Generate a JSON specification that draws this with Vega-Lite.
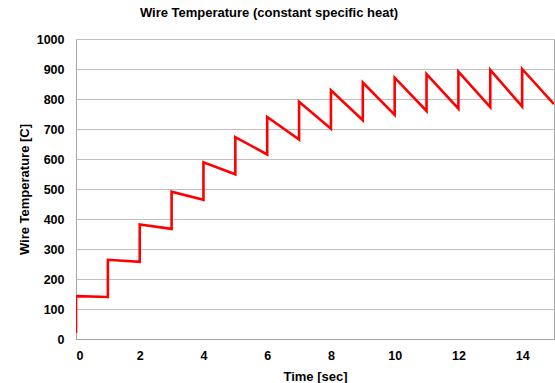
{
  "$schema": "https://vega.github.io/schema/vega-lite/v6.json",
  "width": 478,
  "height": 300,
  "autosize": {"type": "none"},
  "padding": {"left": 76, "top": 39, "right": 1, "bottom": 44},
  "title": {
    "text": "Wire Temperature (constant specific heat)",
    "font": "Liberation Sans",
    "fontSize": 13,
    "fontWeight": "bold",
    "color": "#000000",
    "anchor": "middle",
    "dx": -46,
    "offset": 13
  },
  "config": {
    "view": {"stroke": "#a6a6a6", "strokeWidth": 1},
    "axis": {
      "labelFont": "Liberation Sans",
      "labelFontSize": 12.5,
      "labelFontWeight": "bold",
      "labelColor": "#000000",
      "titleFont": "Liberation Sans",
      "titleFontSize": 13,
      "titleFontWeight": "bold",
      "titleColor": "#000000",
      "domainColor": "#a6a6a6",
      "gridColor": "#bfbfbf",
      "ticks": false
    }
  },
  "data": {
    "values": [
      {"i": 0, "t": 0, "T": 20},
      {"i": 1, "t": 0, "T": 143},
      {"i": 2, "t": 1, "T": 140},
      {"i": 3, "t": 1, "T": 264},
      {"i": 4, "t": 2, "T": 257},
      {"i": 5, "t": 2, "T": 382},
      {"i": 6, "t": 3, "T": 367},
      {"i": 7, "t": 3, "T": 491},
      {"i": 8, "t": 4, "T": 464},
      {"i": 9, "t": 4, "T": 589},
      {"i": 10, "t": 5, "T": 549},
      {"i": 11, "t": 5, "T": 673},
      {"i": 12, "t": 6, "T": 615},
      {"i": 13, "t": 6, "T": 740},
      {"i": 14, "t": 7, "T": 665},
      {"i": 15, "t": 7, "T": 791},
      {"i": 16, "t": 8, "T": 701},
      {"i": 17, "t": 8, "T": 829},
      {"i": 18, "t": 9, "T": 729},
      {"i": 19, "t": 9, "T": 855},
      {"i": 20, "t": 10, "T": 747},
      {"i": 21, "t": 10, "T": 871},
      {"i": 22, "t": 11, "T": 760},
      {"i": 23, "t": 11, "T": 883},
      {"i": 24, "t": 12, "T": 768},
      {"i": 25, "t": 12, "T": 891},
      {"i": 26, "t": 13, "T": 773},
      {"i": 27, "t": 13, "T": 897},
      {"i": 28, "t": 14, "T": 775},
      {"i": 29, "t": 14, "T": 900},
      {"i": 30, "t": 15, "T": 783}
    ]
  },
  "mark": {"type": "line", "color": "#ff0000", "strokeWidth": 2.6, "clip": true},
  "encoding": {
    "x": {
      "field": "t",
      "type": "quantitative",
      "scale": {"domain": [0, 15], "nice": false},
      "axis": {"values": [0, 2, 4, 6, 8, 10, 12, 14], "grid": false, "title": "Time [sec]", "labelPadding": 10, "titlePadding": 9}
    },
    "y": {
      "field": "T",
      "type": "quantitative",
      "scale": {"domain": [0, 1000], "nice": false},
      "axis": {"values": [0, 100, 200, 300, 400, 500, 600, 700, 800, 900, 1000], "format": "d", "title": "Wire Temperature [C]", "labelPadding": 12, "titlePadding": 5}
    },
    "order": {"field": "i", "type": "quantitative"}
  }
}
